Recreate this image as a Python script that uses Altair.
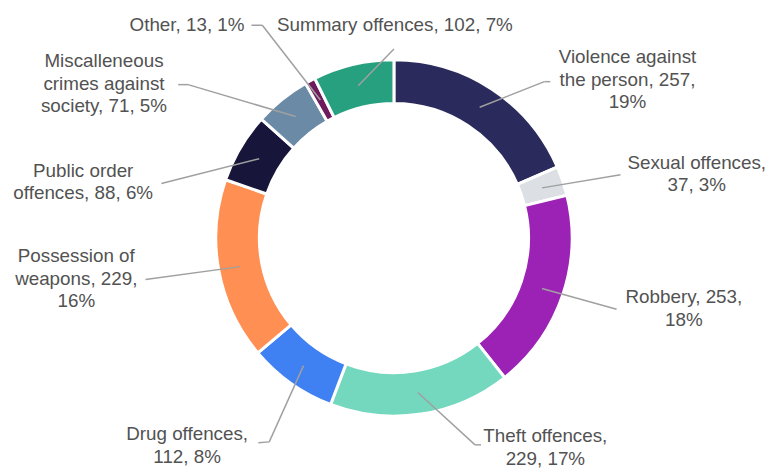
import textwrap
import altair as alt
import pandas as pd

# ---- data ----
categories = [
    "Violence against the person", "Sexual offences", "Robbery", "Theft offences",
    "Drug offences", "Possession of weapons", "Public order offences",
    "Miscalleneous crimes against society", "Other", "Summary offences",
]
counts = [257, 37, 253, 229, 112, 229, 88, 71, 13, 102]
percents = [19, 3, 18, 17, 8, 16, 6, 5, 1, 7]

# ---- styles ----
colors = ["#2b2a5c", "#dcdfe3", "#9b22b5", "#74d8bf", "#3f80f2",
          "#ff8f52", "#17163a", "#6a8aa6", "#6e1b5e", "#26a07f"]

# ---- label layout (page pixels) ----
wrap_width = [17, 16, 13, 15, 14, 13, 16, 15, 40, 40]
text_x = [634, 704, 691, 551, 189, 77, 84, 105, 247, 399]
text_y = [57, 164, 300, 440, 438, 258, 172, 61, 25, 25]   # centre of first line
text_align = ["center"] * 8 + ["right", "center"]
elbow_x = [550, 627, 623, 480, 272, 147, 163, 190, 265, 398]
elbow_y = [80, 174, 310, 447, 444, 280, 183, 83, 23, 47]
end_x = [556, 627, 623, 486, 261, 147, 163, 180, 254, 398]
end_y = [80, 174, 310, 447, 445, 280, 183, 83, 23, 47]

M = 8  # page margin
W, H = 776 - M, 470 - M
CX, CY = 390, 230
R_OUT, R_IN, R_LEAD = 180, 136, 158

labels = ["\n".join(textwrap.wrap(f"{c}, {n}, {p}%", w))
          for c, n, p, w in zip(categories, counts, percents, wrap_width)]

df = pd.DataFrame({
    "idx": list(range(len(categories))),
    "category": categories,
    "count": counts,
    "label": labels,
    "tx": [v - M for v in text_x],
    "ty": [v - M - 11 for v in text_y],
    "align": text_align,
    "ex": [v - M for v in elbow_x],
    "ey": [v - M for v in elbow_y],
    "fx": [v - M for v in end_x],
    "fy": [v - M for v in end_y],
})

xs = alt.Scale(domain=[0, W], range=[0, W], nice=False, zero=False)
ys = alt.Scale(domain=[0, H], range=[0, H], nice=False, zero=False)

base = alt.Chart(df)

arc = base.mark_arc(outerRadius=R_OUT, innerRadius=R_IN, stroke="white", strokeWidth=3).encode(
    theta=alt.Theta("count:Q", stack=True),
    order=alt.Order("idx:Q", sort="ascending"),
    color=alt.Color("category:N", scale=alt.Scale(domain=categories, range=colors), legend=None),
    x=alt.value(CX), y=alt.value(CY),
)

lead = base.transform_joinaggregate(total="sum(count)").transform_window(
    cum="sum(count)", sort=[alt.SortField("idx")], frame=[None, 0]
).transform_calculate(
    mid="(datum.cum - datum.count/2) / datum.total * 2 * PI",
    sx=f"{CX} + {R_LEAD} * sin(datum.mid)",
    sy=f"{CY} - {R_LEAD} * cos(datum.mid)",
)

rule1 = lead.mark_rule(color="#a0a0a0", strokeWidth=1.5).encode(
    x=alt.X("sx:Q", scale=xs, axis=None), y=alt.Y("sy:Q", scale=ys, axis=None),
    x2="ex:Q", y2="ey:Q",
)
rule2 = base.mark_rule(color="#a0a0a0", strokeWidth=1.5).encode(
    x=alt.X("ex:Q", scale=xs, axis=None), y=alt.Y("ey:Q", scale=ys, axis=None),
    x2="fx:Q", y2="fy:Q",
)

def text_layer(al):
    return base.transform_filter(alt.datum.align == al).mark_text(
        align=al, baseline="top", lineBreak="\n", lineHeight=23,
        font="Liberation Sans", fontSize=19, color="#525252",
    ).encode(
        x=alt.X("tx:Q", scale=xs, axis=None), y=alt.Y("ty:Q", scale=ys, axis=None),
        text="label:N",
    )

chart = alt.layer(arc, rule1, rule2, text_layer("center"), text_layer("right")).properties(
    width=W, height=H, padding=0, autosize="none", background="white",
).configure_view(stroke=None)

chart.save("out.html", embed_options={"renderer": "svg", "actions": False})
